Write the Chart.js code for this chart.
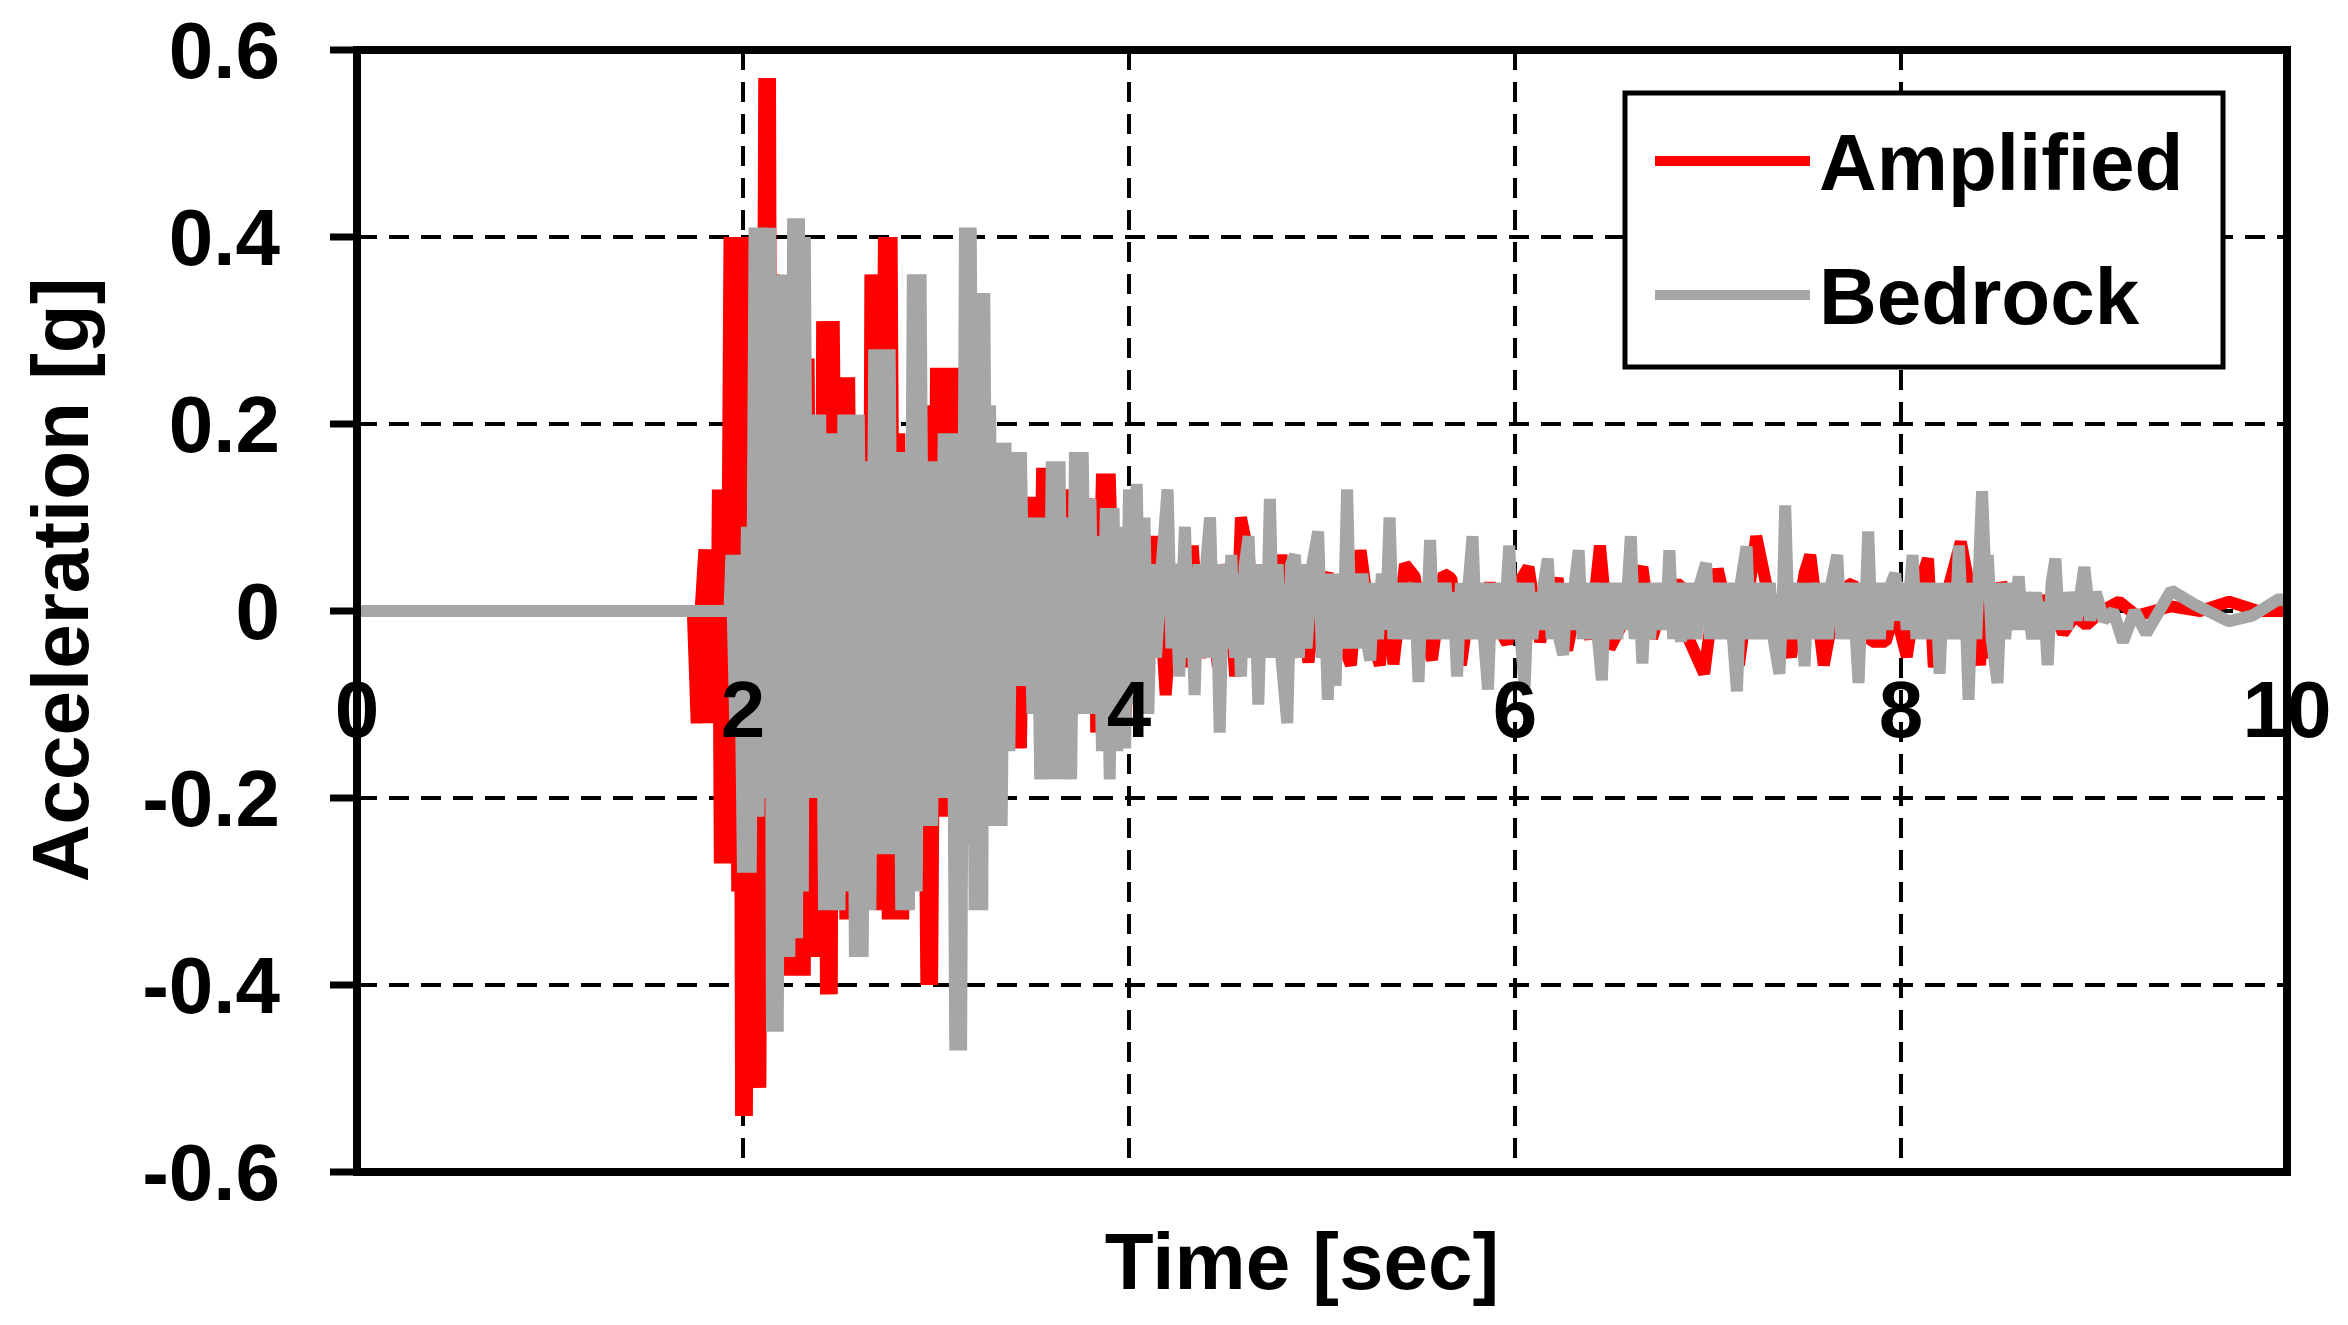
<!DOCTYPE html>
<html>
<head>
<meta charset="utf-8">
<script src="https://cdn.jsdelivr.net/npm/chart.js@4/dist/chart.umd.min.js"></script>
<style>
  body { margin: 0; background: #fff; }
  canvas { display: block; }
</style>
</head>
<body>
<canvas id="accel-chart" width="2348" height="1325"></canvas>
<script>
// [time (sec), acceleration (g)]
const amplified = [
    [0, 0], [1.74, 0], [1.76, -0.12], [1.78, 0.0], [1.80, 0.066], [1.82, -0.12],
    [1.84, 0.066], [1.86, -0.12], [1.87, 0.13], [1.88, -0.27], [1.90, 0.13], [1.91, -0.27],
    [1.93, 0.40], [1.94, -0.27], [1.96, 0.40], [1.97, -0.30], [1.98, 0.30], [1.99, -0.54],
    [2.01, 0.40], [2.02, -0.54], [2.04, 0.40], [2.05, -0.51], [2.07, 0.20], [2.09, -0.51],
    [2.11, 0.57], [2.12, -0.20], [2.14, 0.57], [2.15, -0.20], [2.16, 0.36], [2.18, -0.10],
    [2.20, 0.10], [2.22, 0.35], [2.24, -0.39], [2.26, 0.20], [2.28, -0.39], [2.30, 0.20],
    [2.32, -0.39], [2.34, 0.27], [2.36, -0.37], [2.38, 0.10], [2.40, -0.37], [2.41, 0.31],
    [2.43, -0.41], [2.44, 0.31], [2.46, -0.41], [2.47, 0.31], [2.49, -0.10], [2.51, 0.25],
    [2.53, -0.33], [2.55, 0.25], [2.57, -0.20], [2.59, 0.20], [2.61, -0.20], [2.63, 0.20],
    [2.65, -0.20], [2.66, 0.36], [2.68, -0.20], [2.69, 0.36], [2.71, -0.32], [2.73, 0.40],
    [2.75, -0.33], [2.77, 0.40], [2.79, -0.33], [2.81, 0.19], [2.83, -0.33], [2.85, 0.10],
    [2.87, -0.20], [2.89, 0.10], [2.91, -0.19], [2.93, 0.10], [2.95, -0.40], [2.96, 0.22],
    [2.98, -0.40], [3.00, 0.26], [3.02, -0.22], [3.04, 0.26], [3.06, -0.22], [3.08, 0.26],
    [3.10, -0.10], [3.12, 0.26], [3.14, -0.15], [3.17, 0.15], [3.20, -0.15], [3.23, 0.10],
    [3.25, -0.16], [3.27, 0.10], [3.29, -0.16], [3.32, 0.10], [3.35, -0.10], [3.38, 0.10],
    [3.40, -0.147], [3.42, 0.05], [3.44, -0.147], [3.46, 0.122], [3.48, -0.10], [3.50, 0.122],
    [3.53, -0.10], [3.55, 0.153], [3.57, -0.05], [3.59, 0.153], [3.61, -0.17], [3.63, 0.05],
    [3.65, -0.17], [3.66, 0.13], [3.69, -0.05], [3.72, -0.11], [3.74, 0.05], [3.76, -0.11],
    [3.78, 0.12], [3.80, 0.0], [3.82, 0.12], [3.83, -0.13], [3.86, 0.147], [3.88, -0.05],
    [3.90, 0.147], [3.93, -0.06], [3.96, 0.08], [3.98, -0.12], [4.03, 0.06],
    [4.08, -0.05], [4.14, 0.08], [4.19, -0.09], [4.24, 0.05], [4.29, -0.06], [4.33, 0.07],
    [4.37, -0.05], [4.42, 0.04], [4.46, -0.06], [4.51, 0.05], [4.55, -0.07], [4.58, 0.10],
    [4.62, 0.06], [4.66, -0.04], [4.70, 0.04], [4.74, -0.04], [4.79, 0.06], [4.84, -0.05],
    [4.88, 0.03], [4.93, -0.055], [4.97, 0.02], [5.03, 0.04], [5.08, -0.02], [5.15, -0.058],
    [5.20, 0.065], [5.26, -0.03], [5.30, -0.058], [5.34, 0.03], [5.37, -0.057], [5.43, 0.05],
    [5.48, 0.037], [5.53, -0.03], [5.57, -0.052], [5.63, 0.04], [5.67, 0.035], [5.72, -0.058],
    [5.78, 0.03], [5.82, -0.02], [5.87, 0.03], [5.92, -0.02], [5.96, -0.035], [6.02, 0.03],
    [6.07, 0.047], [6.13, -0.033], [6.17, 0.0], [6.22, 0.035], [6.27, -0.042], [6.33, 0.02],
    [6.39, -0.03], [6.44, 0.07], [6.49, -0.04], [6.54, -0.02], [6.60, 0.02], [6.66, 0.047],
    [6.71, -0.029], [6.77, 0.01], [6.82, 0.028], [6.86, 0.028], [6.90, -0.03], [6.98, -0.067],
    [7.05, 0.045], [7.10, 0.0], [7.16, -0.058], [7.25, 0.08], [7.30, 0.03], [7.37, -0.01],
    [7.43, -0.049], [7.50, 0.04], [7.53, 0.06], [7.60, -0.058], [7.67, 0.02], [7.75, 0.03],
    [7.80, -0.01], [7.85, -0.033], [7.92, -0.033], [7.97, 0.0], [8.03, -0.049], [8.08, 0.02],
    [8.14, 0.056], [8.17, -0.06], [8.24, 0.02], [8.31, 0.074], [8.36, 0.02], [8.41, -0.058],
    [8.43, 0.03], [8.47, -0.05], [8.52, 0.03], [8.56, 0.01], [8.63, 0.015], [8.70, -0.01],
    [8.76, 0.015], [8.84, -0.024], [8.90, -0.005], [8.96, -0.015], [9.04, 0.0], [9.13, 0.01],
    [9.22, -0.005], [9.40, 0.005], [9.55, 0.0], [9.70, 0.01], [9.85, 0.0], [10.0, 0.0]
];

const bedrock = [
    [0, 0], [1.93, 0], [1.94, 0.06], [1.96, -0.12], [1.98, 0.06], [2.00, -0.28],
    [2.02, 0.09], [2.04, -0.28], [2.06, 0.41], [2.08, -0.22], [2.10, 0.41], [2.12, -0.20],
    [2.14, 0.41], [2.15, -0.45], [2.17, 0.36], [2.18, -0.45], [2.20, 0.36], [2.21, -0.37],
    [2.23, 0.30], [2.24, -0.37], [2.26, 0.42], [2.28, -0.35], [2.29, 0.42], [2.31, -0.30],
    [2.32, 0.40], [2.34, -0.20], [2.36, 0.21], [2.38, -0.20], [2.40, 0.21], [2.42, -0.32],
    [2.44, 0.19], [2.46, -0.32], [2.48, 0.19], [2.50, -0.32], [2.52, 0.21], [2.54, -0.30],
    [2.56, 0.21], [2.58, -0.37], [2.60, 0.21], [2.62, -0.37], [2.64, 0.16], [2.66, -0.32],
    [2.68, 0.28], [2.70, -0.26], [2.72, 0.28], [2.74, -0.26], [2.76, 0.28], [2.78, -0.26],
    [2.80, 0.17], [2.82, -0.32], [2.84, 0.17], [2.86, -0.32], [2.88, 0.36], [2.90, -0.30],
    [2.92, 0.36], [2.94, -0.23], [2.96, 0.16], [2.98, -0.23], [3.00, 0.16], [3.02, -0.20],
    [3.04, 0.19], [3.06, -0.20], [3.08, 0.19], [3.10, -0.47], [3.12, 0.19], [3.13, -0.47],
    [3.15, 0.41], [3.17, -0.25], [3.18, 0.41], [3.20, -0.32], [3.22, 0.34], [3.24, -0.32],
    [3.25, 0.34], [3.27, -0.20], [3.28, 0.22], [3.30, -0.23], [3.32, 0.18], [3.34, -0.23],
    [3.36, 0.18], [3.38, -0.15], [3.40, 0.17], [3.42, -0.08], [3.44, 0.17], [3.46, -0.08],
    [3.48, 0.10], [3.50, -0.11], [3.52, 0.10], [3.54, -0.18], [3.56, 0.10], [3.58, -0.18],
    [3.60, 0.16], [3.62, -0.18], [3.64, 0.16], [3.66, -0.18], [3.68, 0.10], [3.70, -0.18],
    [3.72, 0.17], [3.74, -0.11], [3.76, 0.17], [3.78, -0.11], [3.80, 0.12], [3.82, -0.11],
    [3.84, 0.08], [3.86, -0.15], [3.88, 0.11], [3.90, -0.18], [3.92, 0.11], [3.94, -0.15],
    [3.96, 0.09], [3.98, -0.147], [4.00, 0.13], [4.02, -0.10], [4.04, 0.136], [4.06, -0.08],
    [4.08, 0.10], [4.10, -0.11], [4.12, 0.05], [4.14, -0.05], [4.17, 0.05], [4.20, 0.13],
    [4.22, -0.04], [4.24, 0.05], [4.26, -0.07], [4.28, 0.04], [4.29, 0.09], [4.31, -0.05],
    [4.32, 0.04], [4.34, -0.09], [4.36, 0.05], [4.38, -0.05], [4.40, 0.05], [4.42, 0.10],
    [4.44, -0.05], [4.45, 0.05], [4.47, -0.13], [4.49, 0.05], [4.51, -0.04], [4.53, 0.06],
    [4.55, -0.05], [4.56, 0.04], [4.58, -0.07], [4.60, 0.05], [4.62, 0.08], [4.64, -0.05],
    [4.65, 0.05], [4.67, -0.10], [4.69, 0.05], [4.71, -0.05], [4.73, 0.12], [4.75, -0.05],
    [4.77, 0.05], [4.79, -0.05], [4.82, -0.12], [4.84, 0.05], [4.86, 0.06], [4.88, -0.05],
    [4.90, 0.05], [4.92, -0.04], [4.95, 0.05], [4.98, 0.085], [5.00, -0.05], [5.01, 0.04],
    [5.03, -0.095], [5.05, 0.04], [5.07, -0.08], [5.09, 0.04], [5.11, -0.04], [5.13, 0.13],
    [5.15, -0.04], [5.17, 0.04], [5.19, -0.04], [5.21, 0.04], [5.23, -0.03], [5.25, -0.053],
    [5.27, 0.03], [5.29, -0.03], [5.31, 0.04], [5.33, -0.02], [5.35, 0.10], [5.37, -0.03],
    [5.39, 0.03], [5.41, -0.03], [5.43, 0.03], [5.45, -0.03], [5.48, 0.03], [5.50, -0.076],
    [5.52, 0.03], [5.54, -0.03], [5.56, 0.076], [5.58, -0.03], [5.60, 0.03], [5.62, -0.03],
    [5.64, 0.03], [5.66, -0.03], [5.68, 0.02], [5.70, -0.07], [5.72, 0.03], [5.74, -0.03],
    [5.76, 0.03], [5.78, 0.08], [5.80, -0.03], [5.82, 0.03], [5.84, -0.03], [5.86, -0.084],
    [5.88, 0.03], [5.90, -0.03], [5.92, 0.03], [5.94, -0.03], [5.97, 0.07], [5.99, -0.03],
    [6.01, 0.03], [6.03, -0.03], [6.05, -0.081], [6.07, 0.03], [6.09, -0.03], [6.11, 0.02],
    [6.13, -0.02], [6.15, 0.03], [6.17, 0.056], [6.19, -0.03], [6.21, 0.03], [6.23, -0.03],
    [6.25, -0.047], [6.27, 0.03], [6.29, -0.02], [6.31, 0.03], [6.33, 0.065], [6.35, -0.03],
    [6.37, 0.03], [6.39, -0.03], [6.41, 0.03], [6.43, -0.03], [6.45, -0.074], [6.47, 0.03],
    [6.49, -0.03], [6.51, 0.03], [6.53, -0.03], [6.55, 0.03], [6.57, -0.02], [6.60, 0.08],
    [6.62, -0.03], [6.64, 0.03], [6.66, -0.056], [6.68, 0.03], [6.70, -0.03], [6.72, 0.03],
    [6.74, -0.02], [6.76, 0.03], [6.78, -0.02], [6.80, 0.065], [6.82, -0.03], [6.84, 0.03],
    [6.86, -0.033], [6.88, 0.03], [6.90, -0.03], [6.92, 0.03], [6.94, -0.03], [6.96, 0.03],
    [6.99, 0.051], [7.01, -0.03], [7.03, 0.03], [7.05, -0.03], [7.07, 0.03], [7.09, -0.03],
    [7.11, 0.03], [7.13, -0.03], [7.15, -0.086], [7.17, 0.03], [7.20, 0.069], [7.22, -0.03],
    [7.24, 0.03], [7.26, -0.03], [7.28, 0.03], [7.30, -0.03], [7.32, 0.03], [7.34, -0.03],
    [7.37, -0.067], [7.39, 0.03], [7.40, 0.113], [7.42, -0.03], [7.44, 0.03], [7.46, -0.03],
    [7.48, 0.03], [7.50, -0.059], [7.52, 0.03], [7.54, -0.03], [7.56, 0.03], [7.58, -0.03],
    [7.60, 0.03], [7.62, -0.03], [7.64, 0.03], [7.67, 0.06], [7.69, -0.03], [7.71, 0.03],
    [7.73, -0.03], [7.75, 0.03], [7.78, -0.077], [7.80, 0.03], [7.81, -0.03], [7.83, 0.085],
    [7.85, -0.03], [7.87, 0.03], [7.89, -0.03], [7.91, 0.03], [7.93, -0.02], [7.95, 0.03],
    [7.97, 0.04], [7.99, -0.01], [8.01, 0.03], [8.03, -0.02], [8.06, 0.06], [8.08, -0.03],
    [8.10, 0.03], [8.12, -0.03], [8.14, 0.03], [8.16, -0.03], [8.18, 0.03], [8.20, -0.067],
    [8.22, 0.03], [8.24, -0.03], [8.26, 0.03], [8.28, -0.03], [8.30, 0.07], [8.32, -0.03],
    [8.33, 0.03], [8.35, -0.095], [8.37, 0.03], [8.39, -0.03], [8.42, 0.128], [8.44, 0.02],
    [8.45, 0.06], [8.47, -0.03], [8.50, -0.077], [8.52, 0.03], [8.54, -0.03], [8.56, 0.03],
    [8.58, -0.02], [8.61, 0.037], [8.63, -0.02], [8.65, 0.02], [8.68, -0.03], [8.70, 0.02],
    [8.72, -0.03], [8.74, 0.01], [8.76, -0.058], [8.78, 0.03], [8.80, 0.056], [8.82, -0.02],
    [8.84, 0.02], [8.86, -0.02], [8.88, 0.02], [8.91, -0.01], [8.95, 0.047], [8.98, -0.01],
    [9.01, 0.02], [9.05, -0.01], [9.10, 0.0], [9.15, -0.033], [9.21, 0.0], [9.27, -0.024],
    [9.40, 0.022], [9.52, 0.007], [9.70, -0.011], [9.82, -0.005], [9.96, 0.013], [10.0, 0.01]
];

const seriesLabels = ['Amplified', 'Bedrock'];
const seriesColors = ['#ff0000', '#a6a6a6'];
const timeRange = [0, 10];
const accelRange = [-0.6, 0.6];

const FONT = 'bold 80px "Liberation Sans", Arial, sans-serif';
const ctx = document.getElementById('accel-chart').getContext('2d');

function toPoints(pairs) {
    return pairs.map(p => ({ x: p[0], y: p[1] }));
}

function tickText(v) {
    return String(Number(v.toFixed(1)));
}

// frame, tick labels, titles and legend drawn over the plot
const decorPlugin = {
    id: 'decor',
    afterDraw(chart) {
        const c = chart.ctx;
        const area = chart.chartArea;
        const xs = chart.scales.x;
        const ys = chart.scales.y;
        c.save();

        // y tick marks + labels
        c.strokeStyle = '#000';
        c.lineWidth = 7;
        c.fillStyle = '#000';
        c.font = FONT;
        c.textAlign = 'right';
        c.textBaseline = 'alphabetic';
        for (let t of ys.ticks) {
            const y = ys.getPixelForValue(t.value);
            c.beginPath();
            c.moveTo(330, y);
            c.lineTo(area.left, y);
            c.stroke();
            c.fillText(tickText(t.value), 280, y + 28);
        }

        // x tick labels sit just under the zero line
        const y0 = ys.getPixelForValue(0);
        c.textAlign = 'center';
        for (let t of xs.ticks) {
            c.fillText(tickText(t.value), xs.getPixelForValue(t.value), y0 + 126);
        }

        // frame
        c.lineWidth = 8;
        c.strokeRect(area.left, area.top, area.right - area.left, area.bottom - area.top);

        // axis titles
        c.fillText('Time [sec]', (area.left + area.right) / 2 - 20, 1289);
        c.save();
        c.translate(88, 580);
        c.rotate(-Math.PI / 2);
        c.fillText('Acceleration [g]', 0, 0);
        c.restore();

        // legend box
        c.fillStyle = '#fff';
        c.fillRect(1625, 93, 598, 274);
        c.lineWidth = 5;
        c.strokeRect(1625, 93, 598, 274);
        c.textAlign = 'left';
        c.fillStyle = '#000';
        const rows = [161, 295];
        chart.data.datasets.forEach((ds, i) => {
            c.strokeStyle = ds.borderColor;
            c.lineWidth = 10;
            c.beginPath();
            c.moveTo(1655, rows[i]);
            c.lineTo(1810, rows[i]);
            c.stroke();
            c.fillText(ds.label, 1819, rows[i] + 29);
        });

        c.restore();
    }
};

new Chart(ctx, {
    type: 'line',
    data: {
        datasets: [
            {
                label: seriesLabels[0],
                data: toPoints(amplified),
                borderColor: seriesColors[0],
                borderWidth: 12,
                borderJoinStyle: 'bevel',
                pointRadius: 0,
                tension: 0,
                order: 2
            },
            {
                label: seriesLabels[1],
                data: toPoints(bedrock),
                borderColor: seriesColors[1],
                borderWidth: 12,
                borderJoinStyle: 'bevel',
                pointRadius: 0,
                tension: 0,
                order: 1
            }
        ]
    },
    options: {
        responsive: false,
        animation: false,
        events: [],
        layout: {
            padding: { left: 357, top: 50, right: 61, bottom: 153 }
        },
        scales: {
            x: {
                type: 'linear',
                min: timeRange[0],
                max: timeRange[1],
                ticks: { display: false, stepSize: 2 },
                grid: { color: '#000', lineWidth: 4, drawTicks: false },
                border: { display: false, dash: [20, 12] }
            },
            y: {
                min: accelRange[0],
                max: accelRange[1],
                ticks: { display: false, stepSize: 0.2 },
                grid: { color: '#000', lineWidth: 4, drawTicks: false },
                border: { display: false, dash: [20, 12] }
            }
        },
        plugins: {
            legend: { display: false },
            tooltip: { enabled: false }
        }
    },
    plugins: [decorPlugin]
});
</script>
</body>
</html>
